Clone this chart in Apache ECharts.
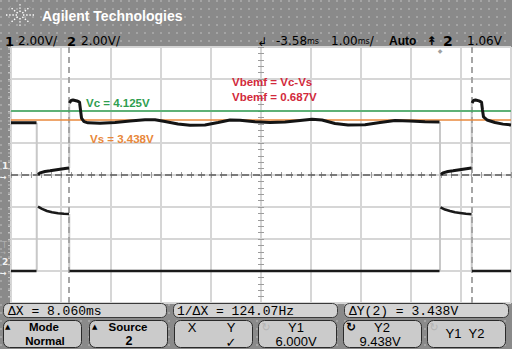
<!DOCTYPE html>
<html><head><meta charset="utf-8">
<script src="https://cdn.jsdelivr.net/npm/echarts@6/dist/echarts.min.js"></script>
<style>
html,body{margin:0;padding:0;width:512px;height:349px;overflow:hidden;}
body{background-color:#8a8a8a;background-image:radial-gradient(circle at 1px 1px,#a4a4a4 0.9px,transparent 1.3px);background-size:8px 8px;}
#c{width:512px;height:349px;}
</style></head><body><div id="c"></div>
<script>
// ---- data (time in ms, voltage in V) ----
const ch1Time = [-8.58,-8.30,-8.07,null,-8.04,-8.00,-7.90,-7.80,-7.70,-7.60,-7.50,-7.42,null,-7.41,-7.38,-7.34,-7.26,-7.21,-7.19,-7.17,-7.12,-7.04,-6.80,-6.50,-6.20,-5.90,-5.70,-5.50,-5.24,-5.00,-4.70,-4.44,-4.20,-4.00,-3.70,-3.40,-3.10,-2.80,-2.56,-2.36,-2.10,-1.84,-1.50,-1.20,-0.90,-0.60,-0.30,-0.01,null,0.02,0.06,0.16,0.26,0.36,0.46,0.56,0.63,null,0.64,0.67,0.71,0.78,0.83,0.85,0.87,0.94,1.10,1.26,1.42];
const ch1Volt = [3.27,3.27,3.27,null,0.03,0.13,0.22,0.26,0.31,0.36,0.41,0.44,null,4.50,4.66,4.69,4.63,4.56,4.06,3.56,3.34,3.26,3.24,3.28,3.38,3.45,3.45,3.34,3.19,3.11,3.13,3.28,3.44,3.42,3.33,3.28,3.31,3.41,3.49,3.44,3.22,3.13,3.14,3.28,3.41,3.38,3.33,3.31,null,0.03,0.13,0.22,0.26,0.31,0.36,0.41,0.44,null,4.50,4.66,4.69,4.63,4.56,4.06,3.63,3.44,3.28,3.18,3.13];
const ch2Time = [-8.58,-8.07,null,-8.04,-7.96,-7.86,-7.76,-7.64,-7.52,-7.42,null,-7.41,-0.01,null,0.01,0.10,0.20,0.30,0.40,0.52,0.63,null,0.64,1.42];
const ch2Volt = [0,0,null,4.02,3.88,3.75,3.67,3.61,3.58,3.56,null,0,0,null,3.98,3.84,3.75,3.67,3.63,3.58,3.54,null,0,0];
// fast edges (faint)
const ch1EdgeTime = [-8.065,-8.065,null,-7.415,-7.415,null,0,0,null,0.635,0.635];
const ch1EdgeVolt = [3.27,0,null,0.44,4.50,null,3.31,0,null,0.44,4.50];
const ch2EdgeTime = [-8.065,-8.065,null,-7.415,-7.415,null,0,0,null,0.635,0.635];
const ch2EdgeVolt = [0,6.0,null,3.56,0,null,0,6.0,null,3.54,0];
// cursors / reference levels
const cursorXms = [-7.42, 0.64];
const cursorY1ch2 = 6.000;
const cursorY2ch2 = 9.438;
const vcLevelCh1 = 4.0;
// display settings / labels
const timeRange = [-8.58, 1.42];
const ch1Range = [-8, 8];
const ch2Range = [-2, 14];
const headerLeft = ['1','2.00V/','2','2.00V/'];
const headerRight = {delay:'-3.58', timebase:'1.00', mode:'Auto', trigSrc:'2', trigLevel:'1.06V'};
const measurements = ['ΔX = 8.060ms','1/ΔX = 124.07Hz','ΔY(2) = 3.438V'];
const annotations = {vc:'Vc = 4.125V', vs:'Vs = 3.438V', b1:'Vbemf = Vc-Vs', b2:'Vbemf = 0.687V'};

function pairs(ts, vs){ return ts.map((t,i)=> (t===null||vs[i]===null) ? '-' : [t, vs[i]]); }

const chart = echarts.init(document.getElementById('c'), null, {renderer:'svg', width:512, height:349});

const divAxisX = (inside, split) => ({type:'value', min:0, max:10, interval:1, position:'bottom', offset:-128,
  axisLine:{show:false,onZero:false}, axisLabel:{show:false},
  axisTick:{show:true, inside:inside, length:3, lineStyle:{color:'#9c9c9c'}},
  minorTick:{show:true, splitNumber:5, length:3, lineStyle:{color:'#9c9c9c'}},
  splitLine:{show:split, lineStyle:{color:'#d6d6d6', width:2}}, minorSplitLine:{show:false}});
const divAxisY = (inside, split, offset, col, len) => ({type:'value', min:0, max:8, interval:1, position:'left', offset:offset,
  axisLine:{show:false,onZero:false}, axisLabel:{show:false},
  axisTick:{show:true, inside:inside, length:len, lineStyle:{color:col}},
  minorTick:{show:true, splitNumber:5, length:len, lineStyle:{color:col}},
  splitLine:{show:split, lineStyle:{color:'#d6d6d6', width:2}}, minorSplitLine:{show:false}});

const option = {
  animation:false,
  backgroundColor:'transparent',
  grid:{left:11, top:47, width:500, height:256, show:true, backgroundColor:'#ffffff', borderWidth:0},
  xAxis:[
    {type:'value', min:timeRange[0], max:timeRange[1], show:false, axisLine:{onZero:false}},
    divAxisX(true, true),
    divAxisX(false, false)
  ],
  yAxis:[
    {type:'value', min:ch1Range[0], max:ch1Range[1], show:false, axisLine:{onZero:false}},
    {type:'value', min:ch2Range[0], max:ch2Range[1], show:false, axisLine:{onZero:false}},
    divAxisY(true, true, -250, '#9c9c9c', 3),
    divAxisY(false, false, -250, '#9c9c9c', 3),
    divAxisY(false, false, 0, '#c4c4c4', 3)
  ],
  series:[
    {type:'line', xAxisIndex:0, yAxisIndex:0, data:pairs(ch1EdgeTime, ch1EdgeVolt), symbol:'none', silent:true, z:2,
      lineStyle:{color:'#c8c8c8', width:2}},
    {type:'line', xAxisIndex:0, yAxisIndex:1, data:pairs(ch2EdgeTime, ch2EdgeVolt), symbol:'none', silent:true, z:2,
      lineStyle:{color:'#c8c8c8', width:2}},
    {type:'line', xAxisIndex:0, yAxisIndex:1, data:[], symbol:'none', silent:true, z:3,
      markLine:{symbol:'none', silent:true, label:{show:false}, animation:false,
        lineStyle:{color:'#5e5e5e', width:1.5, type:[7,4]}, data:[{yAxis:cursorY1ch2}]}},
    {type:'line', xAxisIndex:0, yAxisIndex:0, data:[], symbol:'none', silent:true, z:3,
      markLine:{symbol:'none', silent:true, label:{show:false}, animation:false,
        lineStyle:{color:'#a6a6a6', width:2, type:[6,4]}, data:cursorXms.map(v=>({xAxis:v}))}},
    {type:'line', xAxisIndex:0, yAxisIndex:0, data:pairs(ch1Time, ch1Volt), symbol:'none', silent:true, z:5,
      lineStyle:{color:'#141414', width:3}},
    {type:'line', xAxisIndex:0, yAxisIndex:1, data:pairs(ch2Time, ch2Volt), symbol:'none', silent:true, z:5,
      lineStyle:{color:'#1a1a1a', width:2.5}},
    {type:'line', xAxisIndex:0, yAxisIndex:0, data:[], symbol:'none', silent:true, z:6,
      markLine:{symbol:'none', silent:true, label:{show:false}, animation:false,
        lineStyle:{color:'#34a457', width:1.5, type:'solid'}, data:[{yAxis:vcLevelCh1}]}},
    {type:'line', xAxisIndex:0, yAxisIndex:1, data:[], symbol:'none', silent:true, z:6,
      markLine:{symbol:'none', silent:true, label:{show:false}, animation:false,
        lineStyle:{color:'#e8893c', width:1.5, type:'solid'}, data:[{yAxis:cursorY2ch2}]}}
  ]
};
chart.setOption(option);

// ---- decorations & texts ----
const G = [];
const F = 'DejaVu Sans';
const A = 'Liberation Sans';
function txt(x,y,s,font,fill,align){ G.push({type:'text', x:x, y:y, z:100, silent:true, style:{text:s, font:font, fill:fill||'#000', align:align||'left', verticalAlign:'middle'}}); }
function rect(x,y,w,h,r,fill,stroke){ G.push({type:'rect', z:90, silent:true, shape:{x:x,y:y,width:w,height:h,r:r}, style:{fill:fill, stroke:stroke, lineWidth:1}}); }

// logo
const cx=20, cy=15;
[[15,0],[-15,0],[0,12],[0,-12],[10,8],[-10,8],[10,-8],[-10,-8]].forEach(([dx,dy])=>{
  const L=Math.hypot(dx,dy), ux=dx/L, uy=dy/L;
  G.push({type:'line', z:100, silent:true, shape:{x1:cx+ux*3,y1:cy+uy*3,x2:cx+dx,y2:cy+dy}, style:{stroke:'#ffffff', lineWidth:1.4, lineDash:[1.4,1.8]}});
});
txt(42,16,'Agilent Technologies','bold 14px '+A,'#ffffff');

// header row
txt(5,41,headerLeft[0],'bold 13px '+F,'#000');
txt(18,41,headerLeft[1],'12px '+F,'#000');
txt(67,41,headerLeft[2],'bold 13px '+F,'#000');
txt(81,41,headerLeft[3],'12px '+F,'#000');
txt(257,42,'↲','12px '+F,'#000');
G.push({type:'text', x:276, y:41, z:100, silent:true, style:{text:'{a|'+headerRight.delay+'}{u|ms}', verticalAlign:'middle', fill:'#000',
  rich:{a:{font:'12px '+F, fill:'#000'}, u:{font:'8px '+F, fill:'#000'}}}});
G.push({type:'text', x:331, y:41, z:100, silent:true, style:{text:'{a|'+headerRight.timebase+'}{u|ms}{a|/}', verticalAlign:'middle', fill:'#000',
  rich:{a:{font:'12px '+F, fill:'#000'}, u:{font:'8px '+F, fill:'#000'}}}});
txt(389,41,headerRight.mode,'bold 12px '+A,'#000');
txt(427,41,'↟','bold 12px '+F,'#000');
txt(443,41,headerRight.trigSrc,'bold 14px '+F,'#000');
txt(467,41,headerRight.trigLevel,'12px '+F,'#000');

// annotations
txt(86,103,annotations.vc,'bold 11.5px '+A,'#2f9e50');
txt(90,139,annotations.vs,'bold 11.5px '+A,'#e8873a');
txt(232,82,annotations.b1,'bold 11.5px '+A,'#d22a3c');
txt(232,97,annotations.b2,'bold 11.5px '+A,'#d22a3c');

// left strip markers
const y1g = chart.convertToPixel({yAxisIndex:0}, 0);
const y2g = chart.convertToPixel({yAxisIndex:1}, 0);
const yTrig = chart.convertToPixel({yAxisIndex:1}, 1.06);
const xTrig = chart.convertToPixel({xAxisIndex:0}, 0);
txt(2,y1g-9,'1','bold 9px '+F,'#f2f2f2');
txt(0,y1g+2,'→','bold 8px '+F,'#f2f2f2');
txt(2,y2g-9,'2','bold 9px '+F,'#f2f2f2');
txt(0,y2g+2,'→','bold 8px '+F,'#f2f2f2');
txt(2,yTrig-9,'T','8px '+F,'#b0b0b0');
txt(0,yTrig-1,'→','7px '+F,'#b0b0b0');
txt(xTrig,50,'◆','6px '+F,'#a0a0a0','center');

// measurement row
rect(3.5,303.5,163,14,5,'#d3d3d3','#3a3a3a');
rect(173.5,303.5,164,14,5,'#d3d3d3','#3a3a3a');
rect(344.5,303.5,164,14,5,'#d3d3d3','#3a3a3a');
txt(8,311,measurements[0],'13px Liberation Mono','#000');
txt(177,311,measurements[1],'13px Liberation Mono','#000');
txt(349,311,measurements[2],'13px Liberation Mono','#000');

// softkeys
const keys = [3.5,89.5,174.5,258.5,343.5,427.5];
keys.forEach(k=>rect(k,320.5,78,27,6,'#cbcbcb','#2a2a2a'));
txt(5,327,'▲','7px '+F,'#000');
txt(44,327,'Mode','bold 11.5px '+A,'#000','center');
txt(45,341,'Normal','bold 11.5px '+A,'#000','center');
txt(92,327,'▲','7px '+F,'#000');
txt(128,327,'Source','bold 11.5px '+A,'#000','center');
txt(129,341,'2','bold 12.5px '+A,'#000','center');
txt(192,327,'X','13px '+A,'#000','center');
txt(231,327,'Y','13px '+A,'#000','center');
txt(231,342,'✓','13px '+F,'#000','center');
txt(266,327,'↻','11px '+F,'#b4b4b4','center');
txt(296,327,'Y1','13px '+A,'#000','center');
txt(296,341,'6.000V','13px '+A,'#000','center');
txt(351,327,'↻','bold 12px '+F,'#000','center');
txt(382,327,'Y2','13px '+A,'#000','center');
txt(380,341,'9.438V','13px '+A,'#000','center');
txt(434,327,'↻','11px '+F,'#b4b4b4','center');
txt(465,333,'Y1  Y2','13px '+A,'#000','center');

chart.setOption({graphic:G});
</script></body></html>
